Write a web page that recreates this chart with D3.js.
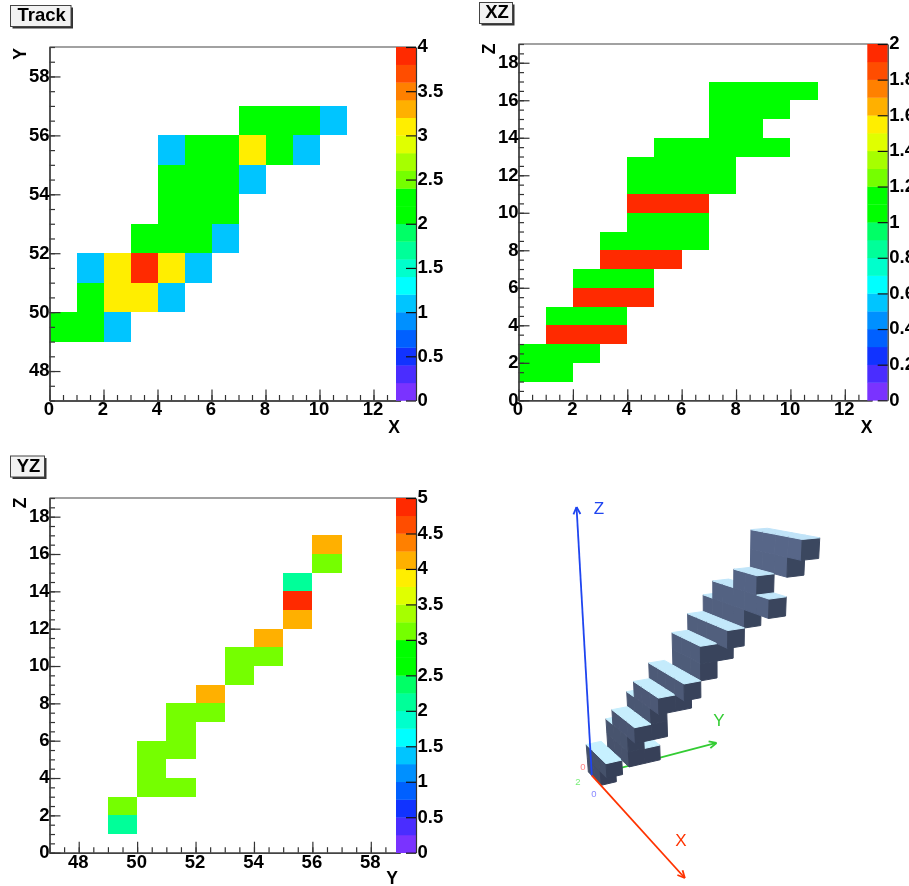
<!DOCTYPE html>
<html><head><meta charset="utf-8">
<script src="https://cdn.jsdelivr.net/npm/d3@7"></script>
<style>html,body{margin:0;padding:0;background:#fff;overflow:hidden}svg{display:block;filter:blur(.55px)}text{font-family:"Liberation Sans",Arial,sans-serif}</style>
</head><body><svg id="c" width="909" height="886"></svg>
<script>
// Track slices, one entry per Z layer: every cell of [xFrom..xTo] x [yFrom..yTo] is hit
const sliceZ     = [1,2,3,4,5,6,7,8,9,10,11,12,13,14,15,16];
const sliceXFrom = [0,0,1,1,2,2,3,3,4,4,4,4,5,7,7,7];
const sliceXTo   = [1,2,3,3,4,4,5,6,6,6,7,7,9,8,9,10];
const sliceYFrom = [49,49,50,50,50,51,51,52,53,53,54,55,55,55,56,56];
const sliceYTo   = [49,49,51,50,51,51,52,52,53,54,54,55,55,55,56,56];
const paletteColors = ["#7a33ff","#4a2dff","#1133ff","#0060ff","#0090ff","#00c5ff","#00ffff","#00ffcc","#00ff99","#00ff66","#00ff00","#00ff00","#75ff00","#a6ff00","#e0ff00","#ffee00","#ffb000","#ff8000","#ff4d00","#ff2a00"];
const xTickValues = [0,2,4,6,8,10,12];
const yTickValues = [48,50,52,54,56,58];
const zTickValues = [0,2,4,6,8,10,12,14,16,18];
const trackColorTicks = [0,0.5,1,1.5,2,2.5,3,3.5,4];
const xzColorTicks = [0,0.2,0.4,0.6,0.8,1,1.2,1.4,1.6,1.8,2];
const yzColorTicks = [0,0.5,1,1.5,2,2.5,3,3.5,4,4.5,5];
const xDomain=[0,13], yDomain=[47,59], zDomain=[0,19];

const voxels = sliceZ.flatMap((z,i)=>d3.range(sliceXFrom[i],sliceXTo[i]+1).flatMap(x=>
  d3.range(sliceYFrom[i],sliceYTo[i]+1).map(y=>({x,y,z}))));

const svg=d3.select("#c");
const fmt=d3.format("~g");
const LABEL=18.5;

function panel(o){
  const g=svg.append("g");
  const sx=d3.scaleLinear().domain(o.xDomain).range([o.left,o.right]);
  const sy=d3.scaleLinear().domain(o.yDomain).range([o.bottom,o.top]);
  const counts=d3.rollups(voxels,v=>v.length,d=>d[o.a],d=>d[o.b]).flatMap(([a,r])=>r.map(([b,n])=>({a,b,n})));
  const color=d3.scaleQuantize().domain([0,o.max]).range(paletteColors);
  g.selectAll("rect.cell").data(counts).join("rect").attr("class","cell")
    .attr("x",d=>sx(d.a)).attr("y",d=>sy(d.b+1))
    .attr("width",d=>sx(d.a+1)-sx(d.a)).attr("height",d=>sy(d.b)-sy(d.b+1))
    .attr("fill",d=>color(d.n)).attr("shape-rendering","crispEdges");
  const minor=(dom)=>d3.range(dom[0],dom[1]+.001,.5);
  const axisStyle=(s)=>{s.selectAll(".domain").attr("stroke","#444").attr("stroke-width",1.4);
    s.selectAll("line").attr("stroke","#333").attr("stroke-width",1.2);};
  const styleText=(s)=>s.attr("fill","#000").attr("font-size",LABEL).attr("font-weight","bold").attr("font-family","Liberation Sans");
  const gx=g.append("g").attr("transform",`translate(0,${o.bottom})`);
  gx.append("g").call(d3.axisBottom(sx).tickValues(minor(o.xDomain)).tickSizeInner(-5.5).tickSizeOuter(0).tickFormat("")).call(axisStyle);
  gx.append("g").call(d3.axisBottom(sx).tickValues(o.xTicks).tickSizeInner(-11).tickSizeOuter(0).tickFormat(fmt)).call(axisStyle)
    .selectAll("text").attr("y",o.xLabelDy).attr("dy",0).attr("dx",-1).attr("dominant-baseline","middle").call(styleText);
  const gy=g.append("g").attr("transform",`translate(${o.left},0)`);
  gy.append("g").call(d3.axisLeft(sy).tickValues(minor(o.yDomain)).tickSizeInner(-5.5).tickSizeOuter(0).tickFormat("")).call(axisStyle);
  gy.append("g").call(d3.axisLeft(sy).tickValues(o.yTicks).tickSizeInner(-11).tickSizeOuter(0).tickFormat(fmt)).call(axisStyle)
    .selectAll("text").attr("x",0).attr("dy",0).attr("dominant-baseline","middle").attr("text-anchor","end").call(styleText);
  g.append("line").attr("x1",o.left).attr("x2",o.palRight).attr("y1",o.top).attr("y2",o.top).attr("stroke","#444").attr("stroke-width",1.2);
  // palette
  const sc=d3.scaleLinear().domain([0,o.max]).range([o.bottom,o.top]);
  const bandH=(o.bottom-o.top)/paletteColors.length;
  g.selectAll("rect.pal").data(paletteColors).join("rect").attr("class","pal")
    .attr("x",o.palLeft).attr("width",o.palRight-o.palLeft)
    .attr("y",(d,i)=>o.bottom-(i+1)*bandH).attr("height",bandH+.3).attr("fill",d=>d);
  const gc=g.append("g").attr("transform",`translate(${o.palRight},0)`);
  gc.call(d3.axisRight(sc).tickValues(o.colorTicks).tickSizeInner(-10).tickSizeOuter(0).tickFormat(fmt));
  gc.selectAll(".domain").attr("stroke","#333").attr("stroke-width",1.2);
  gc.selectAll("line").attr("stroke","#111").attr("stroke-width",1.2);
  gc.selectAll("text").attr("x",1.5).attr("dy",0).attr("dominant-baseline","middle").attr("text-anchor","start").call(styleText);
  // axis titles
  const tt=(x,y,s,rot)=>g.append("text").attr("transform",`translate(${x},${y})${rot?" rotate(-90)":""}`)
    .attr("text-anchor","middle").attr("dominant-baseline","middle").attr("font-size",17.5).attr("font-weight","bold").text(s);
  tt(o.xTitle[0],o.xTitle[1],o.xName,false);
  tt(o.yTitle[0],o.yTitle[1],o.yName,true);
  // title box
  const b=o.box;
  g.append("rect").attr("x",b[0]+2).attr("y",b[1]+2).attr("width",b[2]-b[0]).attr("height",b[3]-b[1]).attr("fill","#333");
  g.append("rect").attr("x",b[0]).attr("y",b[1]).attr("width",b[2]-b[0]).attr("height",b[3]-b[1]).attr("fill","#f2f2f2").attr("stroke","#444").attr("stroke-width",1);
  g.append("text").attr("x",(b[0]+b[2])/2+1).attr("y",(b[1]+b[3])/2+.5).attr("text-anchor","middle").attr("dominant-baseline","middle").attr("font-size",18.5).attr("font-weight","bold").text(o.title);
}

panel({a:"x",b:"y",xDomain,yDomain,xTicks:xTickValues,yTicks:yTickValues,colorTicks:trackColorTicks,max:4,
  left:49.5,right:400.5,top:47,bottom:400.5,palLeft:396,palRight:416,xLabelDy:10,
  xName:"X",yName:"Y",xTitle:[394,428],yTitle:[21,54],title:"Track",box:[10.5,5.5,71,26.5]});
panel({a:"x",b:"z",xDomain,yDomain:zDomain,xTicks:xTickValues,yTicks:zTickValues,colorTicks:xzColorTicks,max:2,
  left:518.5,right:872,top:44,bottom:400.3,palLeft:867.3,palRight:887.7,xLabelDy:10,
  xName:"X",yName:"Z",xTitle:[866.7,428],yTitle:[490,49],title:"XZ",box:[479.5,2.5,512.5,23.5]});
panel({a:"y",b:"z",xDomain:yDomain,yDomain:zDomain,xTicks:yTickValues,yTicks:zTickValues,colorTicks:yzColorTicks,max:5,
  left:49.5,right:400,top:498,bottom:852.7,palLeft:396,palRight:416,xLabelDy:10,
  xName:"Y",yName:"Z",xTitle:[392,879],yTitle:[21,503],title:"YZ",box:[10.5,456,44.5,477]});

// 3D view: a pinhole camera matrix (world x, y-49, z-1 to screen)
const cam=[[-5.19243,20.4179,-5.78813,588.36921],[-8.43253,3.84452,-19.68632,771.89521],[-0.01927,0.00937,-0.00804,1]];
function proj(x,y,z){
  const v=[x,y-49,z-1,1],w=cam.map(r=>d3.sum(r,(c,i)=>c*v[i]));
  return [w[0]/w[2],w[1]/w[2]];
}
const g3=svg.append("g");
const axisOrigin=[0.55,49,1];
const axisTip={x:[12.4,48.8,1],y:[0.55,58,1.3],z:[0.55,49.3,18]};
function axis3(k,col,name,lab){
  const g=g3.append("g");
  const p0=proj(...axisOrigin),p1=proj(...axisTip[k]);
  g.append("line").attr("x1",p0[0]).attr("y1",p0[1]).attr("x2",p1[0]).attr("y2",p1[1]).attr("stroke",col).attr("stroke-width",1.8);
  const ang=Math.atan2(p1[1]-p0[1],p1[0]-p0[0]);
  [-1,1].forEach(s=>g.append("line").attr("x1",p1[0]).attr("y1",p1[1])
    .attr("x2",p1[0]-8*Math.cos(ang+s*.45)).attr("y2",p1[1]-8*Math.sin(ang+s*.45)).attr("stroke",col).attr("stroke-width",1.8));
  g.append("text").attr("x",lab[0]).attr("y",lab[1]).attr("text-anchor","middle").attr("dominant-baseline","middle").attr("font-size",17).attr("fill",col).text(name);
}
const occupied=new Set(voxels.map(d=>[d.x,d.y,d.z].join()));
const has=(x,y,z)=>occupied.has([x,y,z].join());
const shadeSide=d3.scaleLinear().domain([1,17]).range(["#444f68","#58688a"]);
const shadeEnd=d3.scaleLinear().domain([1,17]).range(["#363f57","#3b475f"]);
const shadeTop=d3.scaleLinear().domain([1,17]).range(["#c8f2ff","#bfe2f8"]);
const line=d3.line();
axis3("y","#33cc33","Y",[719,722]);
const order=voxels.slice().sort((p,q)=>d3.ascending(p.x,q.x)||d3.descending(p.y,q.y)||d3.ascending(p.z,q.z));
const faces=order.flatMap(({x,y,z})=>{
  const f=[];
  if(!has(x,y-1,z)) f.push({c:shadeSide(z),p:[[x,y,z],[x+1,y,z],[x+1,y,z+1],[x,y,z+1]]});
  if(!has(x+1,y,z)) f.push({c:shadeEnd(z),p:[[x+1,y,z],[x+1,y+1,z],[x+1,y+1,z+1],[x+1,y,z+1]]});
  if(!has(x,y,z+1)) f.push({c:shadeTop(z),p:[[x,y,z+1],[x+1,y,z+1],[x+1,y+1,z+1],[x,y+1,z+1]]});
  return f;
});
g3.selectAll("path.face").data(faces).join("path").attr("class","face")
  .attr("d",d=>line(d.p.map(q=>proj(...q)))+"Z").attr("fill",d=>d.c).attr("stroke",d=>d.c).attr("stroke-width",1).attr("stroke-linejoin","round");
axis3("z","#1f45f0","Z",[599,510]);
axis3("x","#ff3300","X",[681,842]);
const small=(x,y,c,s)=>g3.append("text").attr("x",x).attr("y",y).attr("text-anchor","middle").attr("dominant-baseline","middle").attr("font-size",9.5).attr("fill",c).text(s);
small(583,767,"#ff8888","0");small(578,782,"#77ee77","2");small(594,794,"#8888ff","0");
</script></body></html>
